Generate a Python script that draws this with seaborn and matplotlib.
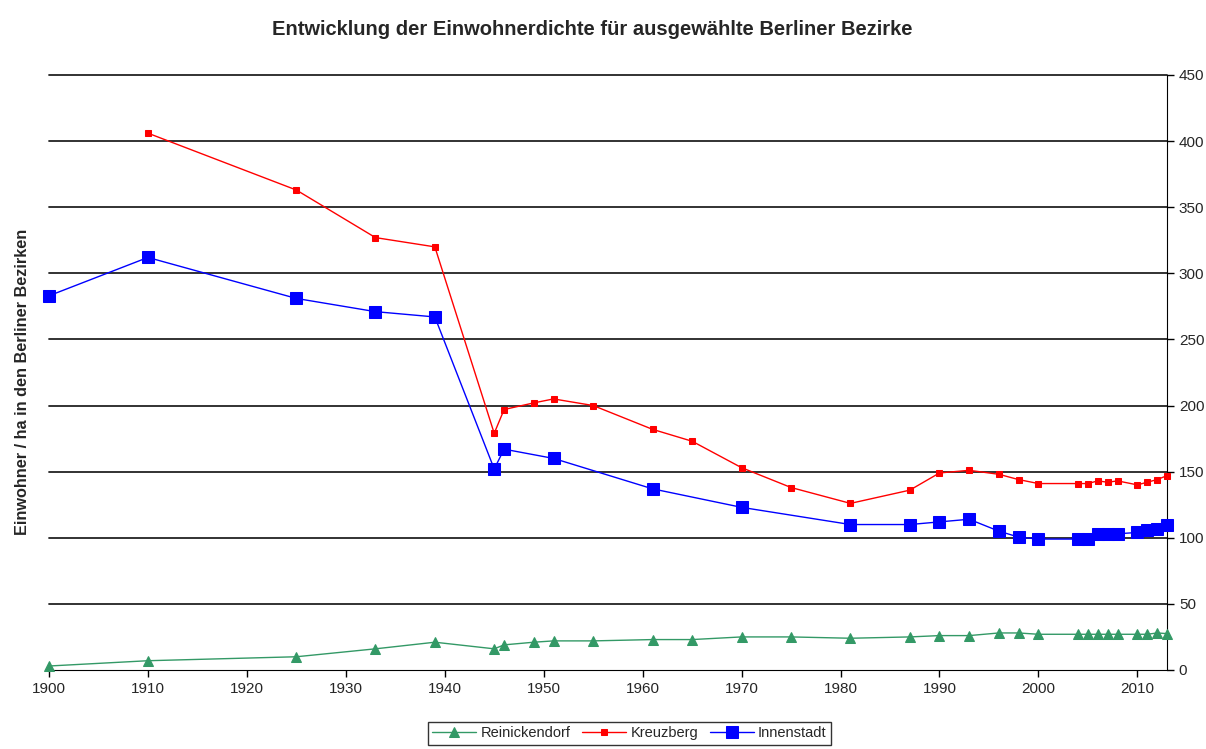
import pandas as pd
import seaborn as sns
import matplotlib.pyplot as plt

# Jahre / Werte (Einwohner je ha)
jahre_rein = [1900, 1910, 1925, 1933, 1939, 1945, 1946, 1949, 1951, 1955, 1961, 1965,
              1970, 1975, 1981, 1987, 1990, 1993, 1996, 1998, 2000, 2004, 2005, 2006,
              2007, 2008, 2010, 2011, 2012, 2013]
reinickendorf = [3, 7, 10, 16, 21, 16, 19, 21, 22, 22, 23, 23,
                 25, 25, 24, 25, 26, 26, 28, 28, 27, 27, 27, 27,
                 27, 27, 27, 27, 28, 27.5]

jahre_kreuz = [1910, 1925, 1933, 1939, 1945, 1946, 1949, 1951, 1955, 1961, 1965,
               1970, 1975, 1981, 1987, 1990, 1993, 1996, 1998, 2000, 2004, 2005, 2006,
               2007, 2008, 2010, 2011, 2012, 2013]
kreuzberg = [406, 363, 327, 320, 179, 197, 202, 205, 200, 182, 173,
             153, 138, 126, 136, 149, 151, 148, 144, 141, 141, 141, 143,
             142, 143, 140, 142, 144, 147]

jahre_innen = [1900, 1910, 1925, 1933, 1939, 1945, 1946, 1951, 1961, 1970, 1981, 1987,
               1990, 1993, 1996, 1998, 2000, 2004, 2005, 2006, 2007, 2008, 2010, 2011,
               2012, 2013]
innenstadt = [283, 312, 281, 271, 267, 152, 167, 160, 137, 123, 110, 110,
              112, 114, 105, 100.5, 99, 99, 99, 103, 103, 103, 104, 106,
              107, 110]

df_r = pd.DataFrame({'Jahr': jahre_rein, 'Wert': reinickendorf})
df_k = pd.DataFrame({'Jahr': jahre_kreuz, 'Wert': kreuzberg})
df_i = pd.DataFrame({'Jahr': jahre_innen, 'Wert': innenstadt})

sns.set_style('white')
plt.rcParams['font.family'] = ['Liberation Sans', 'DejaVu Sans']

fig = plt.figure(figsize=(12.06, 7.49), dpi=100)
ax = fig.add_axes([0.0406, 0.1055, 0.9271, 0.7944])

sns.lineplot(data=df_r, x='Jahr', y='Wert', ax=ax, color='#339966', marker='^',
             markersize=7, markeredgecolor='#339966', linewidth=1, label='Reinickendorf',
             clip_on=False, zorder=3)
sns.lineplot(data=df_k, x='Jahr', y='Wert', ax=ax, color='#ff0000', marker='s',
             markersize=5, markeredgecolor='#ff0000', linewidth=1, label='Kreuzberg',
             clip_on=False, zorder=4)
sns.lineplot(data=df_i, x='Jahr', y='Wert', ax=ax, color='#0000ff', marker='s',
             markersize=8.5, markeredgecolor='#0000ff', linewidth=1, label='Innenstadt',
             clip_on=False, zorder=5)

ax.set_xlim(1900, 2013)
ax.set_ylim(0, 450)
ax.set_xticks(range(1900, 2011, 10))
ax.set_yticks(range(0, 451, 50))
ax.yaxis.tick_right()
ax.yaxis.set_label_position('left')
for y in range(50, 451, 50):
    ax.axhline(y, color='#222222', linewidth=1.3, zorder=0, clip_on=False)

ax.spines['left'].set_visible(False)
ax.spines['top'].set_visible(False)
ax.spines['right'].set_color('black')
ax.spines['bottom'].set_color('black')
ax.tick_params(axis='both', direction='out', length=5, width=1, color='black',
               labelsize=11, bottom=True, right=True, left=False)

ax.set_xlabel('')
ax.set_ylabel('Einwohner / ha in den Berliner Bezirken', fontsize=11.7,
              fontweight='bold')
ax.yaxis.set_label_coords(-0.017, 0.484)
fig.suptitle('Entwicklung der Einwohnerdichte für ausgewählte Berliner Bezirke',
             fontsize=14.5, fontweight='bold', x=0.491, y=0.973)

leg = ax.legend(loc='upper center', bbox_to_anchor=(0.522, 0.036),
                bbox_transform=fig.transFigure, ncol=3, borderaxespad=0,
                frameon=True, fancybox=False, edgecolor='black', fontsize=10.5,
                handlelength=3, handletextpad=0.3, columnspacing=0.8, borderpad=0.3)
leg.get_frame().set_linewidth(1)

fig.savefig('out.png', dpi=100)
